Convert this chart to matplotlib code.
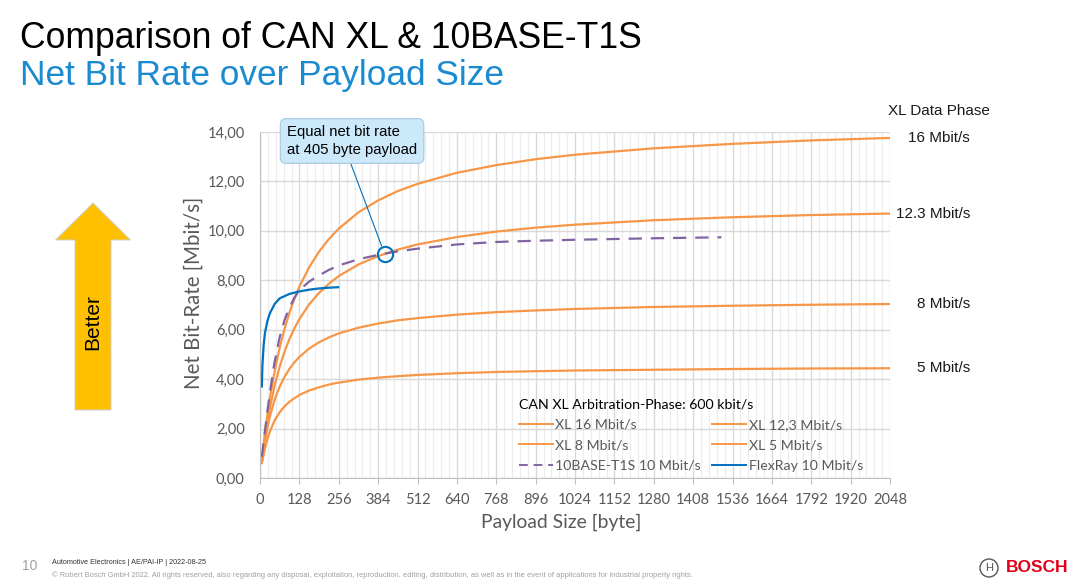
import numpy as np
import matplotlib
matplotlib.use("Agg")
import matplotlib.pyplot as plt
from matplotlib.patches import FancyArrow, Ellipse
from matplotlib.ticker import MultipleLocator

# payload sizes [byte] and net bit rates [Mbit/s]
xl_payload = [6, 12, 16, 24, 32, 48, 64, 80, 96, 112, 128, 160, 192, 224, 256, 320, 384, 448,
              512, 640, 768, 896, 1024, 1280, 1536, 1792, 2048]
xl16 = [0.74, 1.40, 1.81, 2.56, 3.22, 4.35, 5.27, 6.04, 6.70, 7.25, 7.74, 8.53, 9.16, 9.67,
        10.09, 10.75, 11.23, 11.61, 11.90, 12.35, 12.66, 12.90, 13.08, 13.34, 13.52, 13.66, 13.76]
xl12 = [0.67, 1.26, 1.61, 2.26, 2.82, 3.76, 4.51, 5.12, 5.63, 6.06, 6.43, 7.03, 7.49, 7.86,
        8.17, 8.64, 8.98, 9.24, 9.45, 9.75, 9.97, 10.13, 10.25, 10.43, 10.55, 10.64, 10.70]
xl8 = [0.64, 1.18, 1.50, 2.03, 2.48, 3.18, 3.70, 4.10, 4.42, 4.68, 4.90, 5.24, 5.49, 5.69,
       5.85, 6.08, 6.25, 6.38, 6.47, 6.61, 6.71, 6.78, 6.84, 6.92, 6.97, 7.01, 7.04]
xl5 = [0.60, 0.95, 1.19, 1.58, 1.88, 2.34, 2.66, 2.90, 3.09, 3.23, 3.36, 3.54, 3.67, 3.78,
       3.86, 3.98, 4.06, 4.12, 4.17, 4.24, 4.29, 4.32, 4.35, 4.38, 4.41, 4.43, 4.44]

t1s_payload = [6, 12, 16, 24, 32, 46, 64, 80, 96, 112, 128, 160, 192, 224, 256, 320, 384, 448,
               512, 640, 768, 896, 1024, 1280, 1500]
t1s = [0.86, 1.50, 1.90, 2.70, 3.43, 4.60, 5.70, 6.40, 6.90, 7.30, 7.60, 7.95, 8.20, 8.42,
       8.60, 8.85, 9.03, 9.17, 9.28, 9.45, 9.55, 9.60, 9.64, 9.70, 9.74]

fr_payload = [6, 8, 12, 16, 24, 32, 48, 64, 96, 128, 160, 192, 224, 254]
flexray = [3.70, 4.60, 5.40, 5.86, 6.35, 6.66, 7.05, 7.27, 7.45, 7.55, 7.62, 7.67, 7.70, 7.72]

equal_payload = 405
equal_rate = 9.07

xticks = list(range(0, 2049, 128))
yticks = [0, 2, 4, 6, 8, 10, 12, 14]
rate_labels = ["16 Mbit/s", "12.3 Mbit/s", "8 Mbit/s", "5 Mbit/s"]

ORANGE = "#F79646"
PURPLE = "#8064A2"
BLUE = "#0070C0"
GREY = "#595959"
W, H = 1080, 587

fig = plt.figure(figsize=(10.8, 5.87), dpi=100)

def fx(px):
    return px / W

def fy(py):
    return 1 - py / H

ax = fig.add_axes([fx(260), fy(478), fx(890) - fx(260), fy(132) - fy(478)])

h16, = ax.plot(xl_payload, xl16, color=ORANGE, lw=1.6, label="XL 16 Mbit/s")
h12, = ax.plot(xl_payload, xl12, color=ORANGE, lw=1.6, label="XL 12,3 Mbit/s")
h8, = ax.plot(xl_payload, xl8, color=ORANGE, lw=1.6, label="XL 8 Mbit/s")
h5, = ax.plot(xl_payload, xl5, color=ORANGE, lw=1.6, label="XL 5 Mbit/s")
ht, = ax.plot(t1s_payload, t1s, color=PURPLE, lw=1.6, dashes=(6, 4), label="10BASE-T1S 10 Mbit/s")
hf, = ax.plot(fr_payload, flexray, color=BLUE, lw=1.6, label="FlexRay 10 Mbit/s")

ax.set_xlim(0, 2048)
ax.set_ylim(0, 14)
ax.set_xticks(xticks)
ax.set_yticks(yticks)
ax.yaxis.set_major_formatter(plt.FuncFormatter(lambda v, p: ("%.2f" % v).replace(".", ",")))
ax.xaxis.set_minor_locator(MultipleLocator(25.6))
ax.grid(which="major", color="#d9d9d9", lw=1.0)
ax.grid(which="minor", axis="x", color="#ececec", lw=0.8)
ax.set_axisbelow(True)
for s in ["top", "right"]:
    ax.spines[s].set_visible(False)
for s in ["left", "bottom"]:
    ax.spines[s].set_color("#bfbfbf")
ax.tick_params(axis="x", which="major", length=4, color="#bfbfbf", labelsize=10.5, labelcolor=GREY, pad=7)
ax.tick_params(axis="x", which="minor", length=0)
ax.tick_params(axis="y", length=0, labelsize=10.5, labelcolor=GREY, pad=11)
for lab in ax.get_xticklabels() + ax.get_yticklabels():
    lab.set_family("Lato")
ax.set_xlabel("Payload Size [byte]", family="Lato", fontsize=13.9, color=GREY)
ax.set_ylabel("Net Bit-Rate [Mbit/s]", family="Lato", fontsize=14.8, color=GREY)
ax.xaxis.set_label_coords((561 - 260) / 630, -(522 - 478) / 346, transform=ax.transAxes)
ax.yaxis.set_label_coords(-(260 - 194) / 630, (478 - 293) / 346, transform=ax.transAxes)
ax.xaxis.label.set_va("center")
ax.yaxis.label.set_va("center")

# row-wise legend order (matplotlib fills columns first)
handles = [h16, h8, ht, h12, h5, hf]
leg = ax.legend(handles, [h.get_label() for h in handles], loc="upper left",
                bbox_to_anchor=(fx(508), fy(387)), bbox_transform=fig.transFigure,
                ncol=2, frameon=False, handlelength=2.4, handletextpad=0.15, columnspacing=0.8,
                labelspacing=0.6, title="CAN XL Arbitration-Phase: 600 kbit/s", alignment="left",
                prop={"family": "Lato", "size": 10.2}, borderpad=0.3)
leg.get_title().set_fontfamily("Lato")
leg.get_title().set_fontsize(10.2)
leg.get_title().set_color("black")
for t in leg.get_texts():
    t.set_color(GREY)
for lh in leg.get_lines():
    lh.set_linewidth(1.4)
leg.get_lines()[2].set_dashes((4.5, 3))

# equal point marker and callout
ax.plot([equal_payload], [equal_rate], "o", mfc="none", mec=BLUE, ms=11, mew=1.5)
ax.annotate("Equal net bit rate\nat %d byte payload" % equal_payload, xy=(equal_payload, equal_rate),
            xytext=(287, H - 141), textcoords="figure pixels", ha="left", va="center",
            fontsize=10.7, family="Liberation Sans", color="black", linespacing=1.3,
            bbox=dict(boxstyle="round,pad=0.45,rounding_size=0.4", fc="#cce8fb", ec="#a6c8dc", lw=0.8),
            arrowprops=dict(arrowstyle="-", color=BLUE, lw=0.8, relpos=(0.47, 0.0), shrinkA=0, shrinkB=6))

# labels at the right end of each XL curve
ends = [xl16[-1], xl12[-1], xl8[-1], xl5[-1]]
for lab, v in zip(rate_labels, ends):
    ax.text((970 - 260) / 630, v, lab, transform=ax.get_yaxis_transform(),
            ha="right", va="center", fontsize=11, family="Liberation Sans", color="#1a1a1a")
fig.text(fx(990), fy(111), "XL Data Phase", ha="right", va="center", fontsize=11,
         family="Liberation Sans", color="#1a1a1a")

# titles
fig.text(fx(20), fy(38), "Comparison of CAN XL & 10BASE-T1S", ha="left", va="center",
         fontsize=25.6, family="Liberation Sans", color="black")
fig.text(fx(20), fy(76), "Net Bit Rate over Payload Size", ha="left", va="center",
         fontsize=25.4, family="Liberation Sans", color="#1a8ad1")

# "Better" arrow
arr = FancyArrow(fx(93), fy(410), 0, fy(203) - fy(410), width=fx(111) - fx(75),
                 head_width=fx(130) - fx(55), head_length=fy(203) - fy(240),
                 length_includes_head=True, transform=fig.transFigure,
                 fc="#FFC000", ec="#cfcfcf", lw=0.7)
fig.patches.append(arr)
fig.text(fx(93), fy(322), "Better", rotation=90, ha="center", va="center", fontsize=15,
         family="Liberation Sans", color="black")

# footer
fig.text(fx(22), fy(566), "10", ha="left", va="center", fontsize=10, color="#a0a0a0", family="Liberation Sans")
fig.text(fx(52), fy(563), "Automotive Electronics | AE/PAI-IP | 2022-08-25", ha="left", va="center",
         fontsize=5.2, color="#333333", family="Liberation Sans")
fig.text(fx(52), fy(575), "\u00a9 Robert Bosch GmbH 2022. All rights reserved, also regarding any disposal, exploitation, "
         "reproduction, editing, distribution, as well as in the event of applications for industrial property rights.",
         ha="left", va="center", fontsize=5.4, color="#a0a0a0", family="Liberation Sans")
logo = Ellipse((fx(989), fy(568)), width=18 / W, height=18 / H, transform=fig.transFigure,
               fill=False, ec="#555555", lw=1)
fig.patches.append(logo)
fig.text(fx(989), fy(568), "H", ha="center", va="center", fontsize=8, color="#555555", family="Liberation Sans")
fig.text(fx(1068), fy(568), "BOSCH", ha="right", va="center", fontsize=12.5, weight="bold",
         color="#e2001a", family="Liberation Sans")

fig.savefig("out.png", dpi=100)
